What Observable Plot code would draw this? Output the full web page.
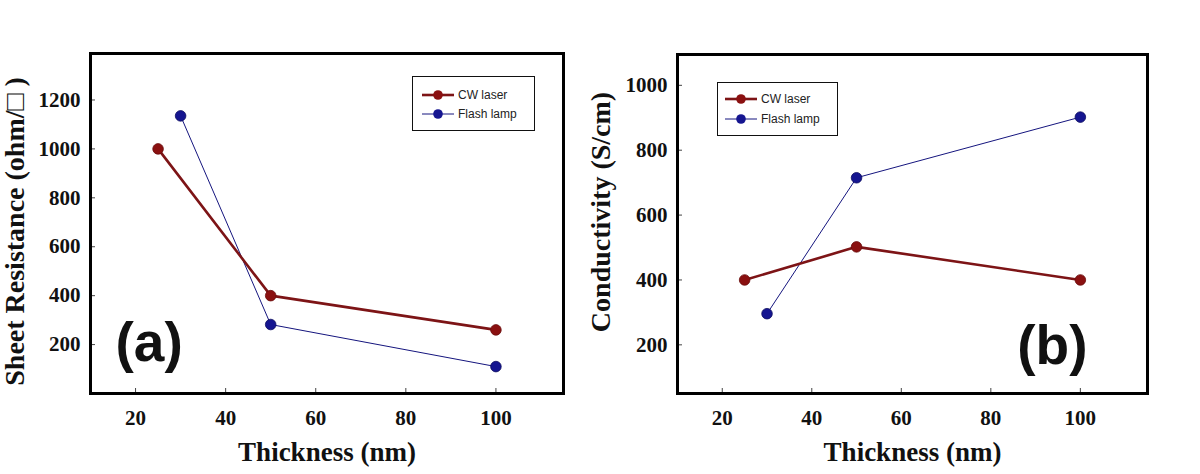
<!DOCTYPE html>
<html>
<head>
<meta charset="utf-8">
<script src="https://cdn.jsdelivr.net/npm/d3@7"></script>
<script src="https://cdn.jsdelivr.net/npm/@observablehq/plot@0.6"></script>
<style>
  html, body { margin: 0; padding: 0; background: #fff; }
  #wrap { position: relative; width: 1200px; height: 474px; display: flex; overflow: hidden; }
  .legend { position: absolute; border: 1px solid #111; background: #fff;
            font-family: "Liberation Sans", Arial, sans-serif; font-size: 12px; color: #222; }
  .legend .row { position: absolute; left: 0; height: 14px; display: flex; align-items: center; }
  .legend svg { display: block; }
  .legend span { margin-left: 4px; white-space: nowrap; }
</style>
</head>
<body>
<div id="wrap"></div>
<script>
// ---- data ----
const series = ["CW laser", "Flash lamp"];
const colors = ["#7d1416", "#15157e"];
const xTicks = [20, 40, 60, 80, 100];

// (a) sheet resistance
const thickA_cw = [25, 50, 100];
const resA_cw = [1000, 400, 260];
const thickA_fl = [30, 50, 100];
const resA_fl = [1135, 282, 110];
const yTicksA = [200, 400, 600, 800, 1000, 1200];

// (b) conductivity
const thickB_cw = [25, 50, 100];
const condB_cw = [400, 502, 400];
const thickB_fl = [30, 50, 100];
const condB_fl = [296, 715, 902];
const yTicksB = [200, 400, 600, 800, 1000];

function rows(xs, ys, s) { return xs.map((x, i) => ({x, y: ys[i], s})); }

const serif = "'Liberation Serif', 'Times New Roman', serif";

function panel({data, yDomain, yTicks, marginLeft, marginRight, marginTop, yLabel, yLabelDx, yLabelDy, tag, tagAnchor, tagDx, tagDy, tagTextAnchor}) {
  const cw = data.filter(d => d.s === series[0]);
  const fl = data.filter(d => d.s === series[1]);
  return Plot.plot({
    width: 600, height: 474,
    marginLeft, marginRight, marginTop, marginBottom: 81,
    x: {domain: [10, 115]},
    y: {domain: yDomain},
    style: {fontFamily: serif, fontWeight: "bold", fontSize: "21px", color: "#111", background: "#fff", overflow: "visible"},
    marks: [
      Plot.axisX({ticks: xTicks, tickFormat: d => String(d), tickSize: -5, tickPadding: 22, label: null, stroke: "#444", fontSize: 21}),
      Plot.axisY({ticks: yTicks, tickFormat: d => String(d), tickSize: -5, tickPadding: 15, label: null, stroke: "#444", fontSize: 21}),
      Plot.line(fl, {x: "x", y: "y", stroke: colors[1], strokeWidth: 1}),
      Plot.line(cw, {x: "x", y: "y", stroke: colors[0], strokeWidth: 2.6}),
      Plot.dot(cw, {x: "x", y: "y", r: 5.3, fill: "#8a1010", stroke: "#6a0c0c", strokeWidth: 0.8}),
      Plot.dot(fl, {x: "x", y: "y", r: 5.3, fill: "#151590", stroke: "#0c0c60", strokeWidth: 0.8}),
      Plot.frame({stroke: "#000", strokeWidth: 3}),
      Plot.text([yLabel], {text: d => d, frameAnchor: "left", textAnchor: "middle", rotate: -90, dx: yLabelDx, dy: yLabelDy,
        fontSize: 28, fontWeight: "bold", fontFamily: serif, fill: "#111"}),
      Plot.text(["Thickness (nm)"], {text: d => d, frameAnchor: "bottom", textAnchor: "middle", dy: 67,
        fontSize: 27, fontWeight: "bold", fontFamily: serif, fill: "#111"}),
      Plot.text([tag], {text: d => d, frameAnchor: tagAnchor, dx: tagDx, dy: tagDy, textAnchor: tagTextAnchor,
        fontSize: 55, fontWeight: "bold", fontFamily: "'Liberation Sans', Arial, sans-serif", fill: "#111"})
    ]
  });
}

const wrap = document.getElementById("wrap");

wrap.append(panel({
  data: [...rows(thickA_cw, resA_cw, series[0]), ...rows(thickA_fl, resA_fl, series[1])],
  yDomain: [0, 1390], yTicks: yTicksA,
  marginLeft: 90, marginRight: 37, marginTop: 53,
  yLabel: "Sheet Resistance (ohm/□ )", yLabelDx: -75, yLabelDy: 8,
  tag: "(a)", tagAnchor: "bottom-left", tagDx: 25, tagDy: -33, tagTextAnchor: "start"
}));

wrap.append(panel({
  data: [...rows(thickB_cw, condB_cw, series[0]), ...rows(thickB_fl, condB_fl, series[1])],
  yDomain: [50, 1095], yTicks: yTicksB,
  marginLeft: 77, marginRight: 53, marginTop: 54,
  yLabel: "Conductivity (S/cm)", yLabelDx: -76, yLabelDy: -12,
  tag: "(b)", tagAnchor: "bottom-right", tagDx: -60, tagDy: -30, tagTextAnchor: "end"
}));

// ---- legends ----
function legend(left, top, w, h, rowYs, symLeft) {
  const box = document.createElement("div");
  box.className = "legend";
  Object.assign(box.style, {left: left + "px", top: top + "px", width: w + "px", height: h + "px"});
  series.forEach((name, i) => {
    const row = document.createElement("div");
    row.className = "row";
    row.style.top = (rowYs[i] - 7) + "px";
    row.style.left = symLeft + "px";
    const sw = i === 0 ? 2.6 : 1;
    const fill = i === 0 ? "#8a1010" : "#151590";
    row.innerHTML = `<svg width="32" height="14"><line x1="0" y1="7" x2="32" y2="7" stroke="${colors[i]}" stroke-width="${sw}"/><circle cx="16" cy="7" r="4.8" fill="${fill}"/></svg><span>${name}</span>`;
    box.append(row);
  });
  wrap.append(box);
}
legend(412, 76, 121, 53, [18, 37], 9);
legend(717, 82, 119, 52, [16, 36], 7);
</script>
</body>
</html>
